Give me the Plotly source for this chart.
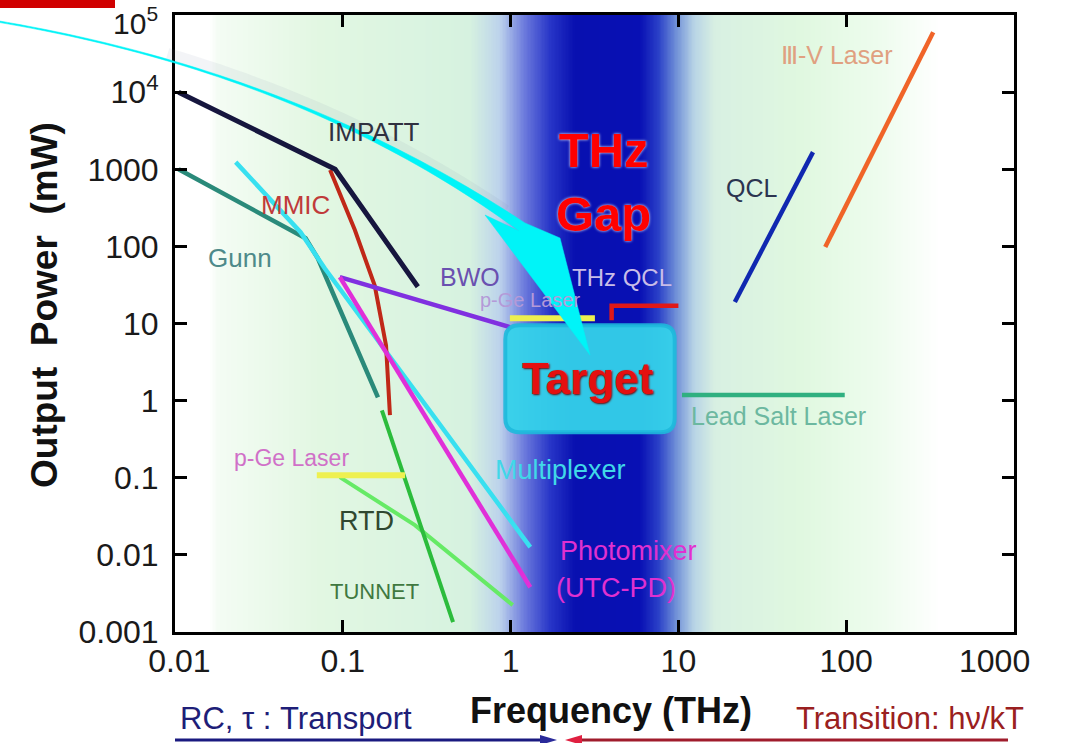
import math
import numpy as np
import plotly.graph_objects as go

W, H = 1066, 743
ML, MR, MT, MB = 175, 52, 15, 111
PW = W - ML - MR
PH = H - MT - MB
FONT = "Liberation Sans, Arial, sans-serif"
NB = "\u00a0"


def px(x):
    return (x - ML) / PW


def py(y):
    return (H - MB - y) / PH


# ---------------- data (frequency in THz, power in mW) ----------------
impatt_f = [0.0105, 0.09, 0.28]
impatt_p = [10000, 1000, 30]
gunn_f = [0.0105, 0.06, 0.071, 0.162]
gunn_p = [1000, 128, 70, 1.1]
multiplexer_f = [0.023, 0.056, 0.078, 1.31]
multiplexer_p = [1240, 153, 52, 0.0126]
mmic_f = [0.084, 0.118, 0.155, 0.181, 0.191]
mmic_p = [980, 163, 31, 5.2, 0.65]
bwo_f = [0.096, 0.99]
bwo_p = [40, 9]
photomixer_f = [0.096, 1.31]
photomixer_p = [40, 0.0038]
pge_low_f = [0.070, 0.235]
pge_low_p = [0.108, 0.108]
pge_high_f = [0.99, 3.18]
pge_high_p = [11.7, 11.7]
rtd_f = [0.096, 0.269, 1.03]
rtd_p = [0.102, 0.0243, 0.00223]
tunnet_f = [0.171, 0.454]
tunnet_p = [0.75, 0.00134]
thz_qcl_f = [4.0, 4.0, 10.0]
thz_qcl_p = [11, 17, 17]
qcl_f = [21.7, 63.4]
qcl_p = [19, 1670]
iiiv_f = [75, 330]
iiiv_p = [98, 60000]
leadsalt_f = [10.5, 98]
leadsalt_p = [1.18, 1.18]

target_f = [0.93, 9.5]
target_p = [0.39, 9.5]
divider_f = 0.0171

x_ticks = [0.01, 0.1, 1, 10, 100, 1000]
x_ticktext = [NB + "0.01", "0.1", "1", "10", "100", ""]
last_x_label = "1000"
y_ticks = [1e-3, 1e-2, 1e-1, 1, 10, 100, 1000, 1e4, 1e5]
y_ticktext = ["0.001", "0.01", "0.1", "1", "10", "100", "1000",
              "10<sup>4</sup>", ""]
top_tick_label = "10<sup>5</sup>"

# background gradient stops (frequency, colour)
bg_f = [0.01, 0.0162, 0.018, 0.073, 0.573, 0.865, 1.22, 1.72, 2.42,
        5.90, 7.6, 9.7, 12.4, 16.5, 53, 159, 362, 1000]
bg_c = ["#ffffff", "#ffffff", "#f4fcf4", "#e2f7e2", "#d6f2e0", "#bcd2ec",
        "#6a78dc", "#2836c8", "#0810b0", "#0810b4", "#2a40c8", "#7090d8",
        "#b8d4e6", "#d8f0e2", "#e0f8e0", "#eefcee", "#ffffff", "#ffffff"]

fig = go.Figure()

# background gradient as heatmap
gx = np.logspace(-2, 3, 600)
gz = np.log10(gx)
cs = [[(math.log10(f) + 2) / 5, c] for f, c in zip(bg_f, bg_c)]
fig.add_trace(go.Heatmap(x=gx, y=[1e-4, 1e6], z=[gz, gz], colorscale=cs,
                         zmin=-2, zmax=3, showscale=False, hoverinfo="skip"))

series = [
    (rtd_f, rtd_p, "#66ea66", 4),
    (tunnet_f, tunnet_p, "#2cbc3c", 4),
    (pge_low_f, pge_low_p, "#eef050", 6),
    (pge_high_f, pge_high_p, "#eef050", 6),
    (gunn_f, gunn_p, "#2a8a7a", 4.5),
    (multiplexer_f, multiplexer_p, "#38e0f0", 4.5),
    (mmic_f, mmic_p, "#c02818", 4),
    (impatt_f, impatt_p, "#16163e", 5),
    (bwo_f, bwo_p, "#8030e0", 4.5),
    (photomixer_f, photomixer_p, "#e030d8", 4.5),
    (thz_qcl_f, thz_qcl_p, "#e01818", 4.5),
    (qcl_f, qcl_p, "#1028b0", 4.5),
    (iiiv_f, iiiv_p, "#f06428", 4.5),
    (leadsalt_f, leadsalt_p, "#30b080", 4.5),
]
for f, p, c, w in series:
    fig.add_trace(go.Scatter(x=f, y=p, mode="lines", line=dict(color=c, width=w),
                             showlegend=False, hoverinfo="skip"))

shapes = []
# divider line
shapes.append(dict(type="line", xref="x", yref="paper", x0=divider_f, x1=divider_f,
                   y0=0, y1=1, line=dict(color="#9a9a9a", width=1), layer="below"))

# target rounded box (data coords)
x0, x1 = target_f
y0, y1 = target_p
rx, ry = 10 ** (14 / 167.8), 10 ** (14 / 77.1)


def rounded(x0, x1, y0, y1):
    return (f"M {x0*rx},{y0} L {x1/rx},{y0} Q {x1},{y0} {x1},{y0*ry} "
            f"L {x1},{y1/ry} Q {x1},{y1} {x1/rx},{y1} L {x0*rx},{y1} "
            f"Q {x0},{y1} {x0},{y1/ry} L {x0},{y0*ry} Q {x0},{y0} {x0*rx},{y0} Z")


shapes.append(dict(type="path", xref="x", yref="y", path=rounded(x0, x1, y0, y1),
                   fillcolor="rgba(52,210,234,0.94)",
                   line=dict(color="rgba(30,185,220,0.9)", width=4), layer="above"))

# curved cyan arrow (pixel geometry -> paper)
P0, C, P2 = (-5, 21), (300, 72), (522, 227)


def bez(t):
    return ((1 - t) ** 2 * P0[0] + 2 * (1 - t) * t * C[0] + t ** 2 * P2[0],
            (1 - t) ** 2 * P0[1] + 2 * (1 - t) * t * C[1] + t ** 2 * P2[1])


def dbez(t):
    return (2 * (1 - t) * (C[0] - P0[0]) + 2 * t * (P2[0] - C[0]),
            2 * (1 - t) * (C[1] - P0[1]) + 2 * t * (P2[1] - C[1]))


up, lo = [], []
for t in np.linspace(0, 1, 50):
    bx, by = bez(t)
    dx, dy = dbez(t)
    L = math.hypot(dx, dy)
    nx, ny = dy / L, -dx / L  # up-right side
    w = 1.5 + 8.5 * t ** 3.2
    up.append((bx + nx * w / 2, by + ny * w / 2))
    lo.append((bx - nx * w / 2, by - ny * w / 2))
head = [(560, 238), (590, 355), (485, 215)]
pts = up + head + lo[::-1]
arrow_path = "M " + " L ".join(f"{px(a):.5f},{py(b):.5f}" for a, b in pts) + " Z"

# faint shadow above the arrow
sh = [bez(t) for t in np.linspace(0.3, 0.97, 30)]
shadow_path = "M " + " L ".join(f"{px(a - 3):.5f},{py(b - 7):.5f}" for a, b in sh)
shapes.append(dict(type="path", xref="paper", yref="paper", path=shadow_path,
                   line=dict(color="rgba(120,130,170,0.09)", width=12), layer="above"))
shapes.append(dict(type="path", xref="paper", yref="paper", path=arrow_path,
                   fillcolor="#00f4f8", line=dict(color="#00f0f4", width=0.5), layer="above"))

# red bar top-left
shapes.append(dict(type="rect", xref="paper", yref="paper", x0=px(0), x1=px(115),
                   y0=py(8), y1=py(0), fillcolor="#d00000", line=dict(width=0)))

# bottom arrows
shapes.append(dict(type="line", xref="paper", yref="paper", x0=px(175), x1=px(545),
                   y0=py(740), y1=py(740), line=dict(color="#1a1a80", width=3)))
shapes.append(dict(type="path", xref="paper", yref="paper",
                   path=f"M {px(540)},{py(735)} L {px(557)},{py(740)} L {px(540)},{py(745)} Z",
                   fillcolor="#2a2a9a", line=dict(width=0)))
shapes.append(dict(type="line", xref="paper", yref="paper", x0=px(575), x1=px(1008),
                   y0=py(740), y1=py(740), line=dict(color="#a01c2c", width=3)))
shapes.append(dict(type="path", xref="paper", yref="paper",
                   path=f"M {px(582)},{py(735)} L {px(565)},{py(740)} L {px(582)},{py(745)} Z",
                   fillcolor="#e02040", line=dict(width=0)))

annotations = []


def label(text, x, y, size, color, bold=False, angle=0, shadow=None, family=FONT,
          xanchor="center", yanchor="middle"):
    fnt = dict(family=family, size=size, color=color)
    if shadow:
        fnt["shadow"] = shadow
    annotations.append(dict(text=f"<b>{text}</b>" if bold else text, x=px(x), y=py(y),
                            xref="paper", yref="paper", showarrow=False,
                            xanchor=xanchor, yanchor=yanchor, textangle=angle, font=fnt))


label("IMPATT", 374, 132, 26, "#303040")
label("MMIC", 295, 205, 26, "#c03a3a")
label("Gunn", 240, 258, 26, "#4e8a8a")
label("BWO", 470, 277, 25, "#6a50b0")
label("p-Ge Laser", 530, 300, 20, "#b49ad8")
label("THz QCL", 622, 277, 24, "#c8bce8")
label("QCL", 752, 188, 25, "#2c3450")
label("Ⅲ-V Laser", 836, 55, 25, "#e0a080")
label("Lead Salt Laser", 778, 416, 25, "#6cb8a0")
label("p-Ge Laser", 291, 458, 23, "#d070c8")
label("Multiplexer", 560, 470, 27, "#40d8e8")
label("RTD", 366, 521, 27, "#304830")
label("TUNNET", 374, 591, 22, "#407840")
label("Photomixer", 628, 551, 27, "#e030d0")
label("(UTC-PD)", 616, 588, 27, "#e030d0")
label("THz<br>Gap", 603, 182, 49, "#ff0000", bold=True, shadow="0px 0px 3px #ffffff")
label("Target", 588, 378, 44, "#e41010", bold=True, shadow="1px 1px 2px #700000")
label("Frequency (THz)", 611, 711, 36, "#111111", bold=True)
label("Output\u00a0\u00a0Power\u00a0\u00a0(mW)", 44, 305, 37, "#111111", bold=True, angle=-90)
label("RC, τ : Transport", 296, 718, 31, "#1e1e78")
label("Transition: hν/kT", 910, 718, 31, "#9a2020")
label(top_tick_label, 160, 0, 30, "#1a1a1a", xanchor="right", yanchor="top")
label(last_x_label, 994, 661, 32, "#1a1a1a")

axis_common = dict(type="log", showgrid=False, zeroline=False, showline=True,
                   linecolor="#000000", linewidth=3, mirror="ticks", ticks="inside",
                   ticklen=12, tickwidth=3, tickcolor="#000000",
                   ticklabeloverflow="allow", automargin=False,
                   tickfont=dict(family=FONT, size=32, color="#1a1a1a"))

fig.update_layout(
    width=W, height=H,
    margin=dict(l=ML, r=MR, t=MT, b=MB, pad=0, autoexpand=False),
    paper_bgcolor="#ffffff", plot_bgcolor="#ffffff",
    showlegend=False,
    xaxis=dict(range=[-2, 3], tickvals=x_ticks, ticktext=x_ticktext,
               ticklabelstandoff=-1, **axis_common),
    yaxis=dict(range=[-3, 5.001], tickvals=y_ticks, ticktext=y_ticktext,
               ticklabelstandoff=7, **axis_common),
    shapes=shapes,
    annotations=annotations,
)

fig.write_html("out.html", config={"displayModeBar": False},
               post_script="document.body.style.margin='0';document.body.style.overflow='hidden';")
